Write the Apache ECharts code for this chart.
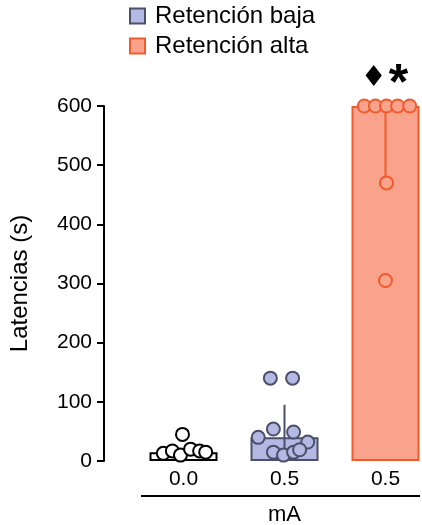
<!DOCTYPE html>
<html>
<head>
<meta charset="utf-8">
<script src="https://cdn.jsdelivr.net/npm/echarts@6/dist/echarts.min.js"></script>
<style>
  html, body { margin: 0; padding: 0; background: #fff; }
  #chart { width: 422px; height: 525px; }
</style>
</head>
<body>
<div id="chart"></div>
<script>
// Groups along the x axis and their tick labels (current in mA)
const groups = ['control', 'Retención baja', 'Retención alta'];
const tickLabels = ['0.0', '0.5', '0.5'];
const axisTitle = 'mA';

// Bar heights (median latency, s) and whisker ranges
const medians = [15, 40, 600];
const whiskerLow = [10, 15, 470];
const whiskerHigh = [20, 95, 600];

// Individual latencies per group (s)
const pointsControl = [45, 13, 17, 10, 20, 17, 15];
const pointsBaja = [140, 140, 40, 54, 49, 32, 15, 10, 15, 19];
const pointsAlta = [600, 600, 600, 600, 600, 470, 305];

// Horizontal spread of the dots inside each bar (fraction of a category)
const jitterControl = [-0.01, -0.2, -0.11, -0.03, 0.07, 0.16, 0.22];
const jitterBaja = [-0.14, 0.08, -0.26, -0.11, 0.09, 0.23, -0.11, -0.01, 0.09, 0.15];
const jitterAlta = [-0.21, -0.1, 0.01, 0.12, 0.24, 0.01, 0];

// Y axis
const yMin = 0, yMax = 600, yStep = 100;

const FONT = 'Liberation Sans';
const styles = [
  { fill: '#ffffff', stroke: '#000000' },
  { fill: '#b4b9e3', stroke: '#4a4f6b' },
  { fill: '#f9a38d', stroke: '#f15a2c' }
];

function barSeries(i) {
  const data = groups.map((g, j) => j === i ? medians[i] : '-');
  const s = {
    name: groups[i],
    type: 'bar',
    xAxisIndex: 0,
    barWidth: 68,
    barGap: '-100%',
    itemStyle: { color: styles[i].fill, borderColor: styles[i].stroke, borderWidth: 2 },
    data: data,
    z: 1
  };
  if (i === 2) {
    // significance marks above the high-retention bar
    s.data = data.map((v, j) => j === i ? {
      value: v,
      label: {
        show: true,
        position: 'top',
        distance: 10,
        offset: [-1, 14],
        formatter: '{d|\u2666}{s|*}',
        rich: {
          d: { fontFamily: 'DejaVu Sans', fontSize: 29, color: '#000', padding: [0, 2, 0, 0] },
          s: { fontFamily: FONT, fontSize: 50, fontWeight: 'bold', color: '#000', padding: [14, 0, 0, 0] }
        }
      }
    } : v);
  }
  return s;
}

function dotSeries(i, values, jitter) {
  return {
    name: groups[i] + ' puntos',
    type: 'scatter',
    xAxisIndex: 1,
    symbol: 'circle',
    symbolSize: 13,
    itemStyle: { color: styles[i].fill, borderColor: styles[i].stroke, borderWidth: 2, opacity: 1 },
    data: values.map((v, k) => [i + jitter[k], v]),
    z: 5
  };
}

const whiskerSeries = {
  type: 'custom',
  xAxisIndex: 0,
  data: groups.map((g, i) => [i, whiskerLow[i], whiskerHigh[i]]),
  renderItem: function (params, api) {
    const i = api.value(0);
    const lo = api.coord([i, api.value(1)]);
    const hi = api.coord([i, api.value(2)]);
    return {
      type: 'line',
      shape: { x1: lo[0], y1: lo[1], x2: hi[0], y2: hi[1] },
      style: { stroke: styles[i].stroke, lineWidth: 2 }
    };
  },
  z: 3
};

const chart = echarts.init(document.getElementById('chart'), null, { renderer: 'canvas' });
chart.setOption({
  animation: false,
  textStyle: { fontFamily: FONT },
  legend: {
    data: [groups[1], groups[2]],
    orient: 'vertical',
    left: 129,
    top: 4,
    padding: 0,
    itemWidth: 15,
    itemHeight: 15,
    itemGap: 6,
    icon: 'rect',
    textStyle: { fontFamily: FONT, fontSize: 24, color: '#000', padding: [0, 0, 0, 5] }
  },
  grid: { left: 133, top: 106, width: 303, height: 355, containLabel: false, outerBoundsMode: 'none' },
  xAxis: [
    {
      type: 'category',
      data: groups,
      axisLine: { show: false },
      axisTick: { show: false },
      axisLabel: {
        margin: 8,
        fontFamily: FONT, fontSize: 21, color: '#000',
        formatter: function (v, idx) { return tickLabels[idx]; }
      },
      name: axisTitle,
      nameLocation: 'middle',
      nameGap: 43,
      nameTextStyle: { fontFamily: FONT, fontSize: 22, color: '#000' }
    },
    { type: 'value', min: -0.5, max: 2.5, show: false }
  ],
  yAxis: {
    type: 'value',
    min: yMin, max: yMax, interval: yStep,
    offset: 29,
    splitLine: { show: false },
    axisLine: { show: true, onZero: false, lineStyle: { color: '#000', width: 2 } },
    axisTick: { show: true, length: 7, lineStyle: { color: '#000', width: 2 } },
    axisLabel: { margin: 12, fontFamily: FONT, fontSize: 21, color: '#000' },
    name: 'Latencias (s)',
    nameLocation: 'middle',
    nameGap: 72,
    nameTextStyle: { fontFamily: FONT, fontSize: 24, color: '#000' }
  },
  graphic: [{
    type: 'line',
    shape: { x1: 141, y1: 496, x2: 420, y2: 496 },
    style: { stroke: '#000', lineWidth: 2 }
  }],
  series: [
    barSeries(0), barSeries(1), barSeries(2),
    whiskerSeries,
    dotSeries(0, pointsControl, jitterControl),
    dotSeries(1, pointsBaja, jitterBaja),
    dotSeries(2, pointsAlta, jitterAlta)
  ]
});
</script>
</body>
</html>
